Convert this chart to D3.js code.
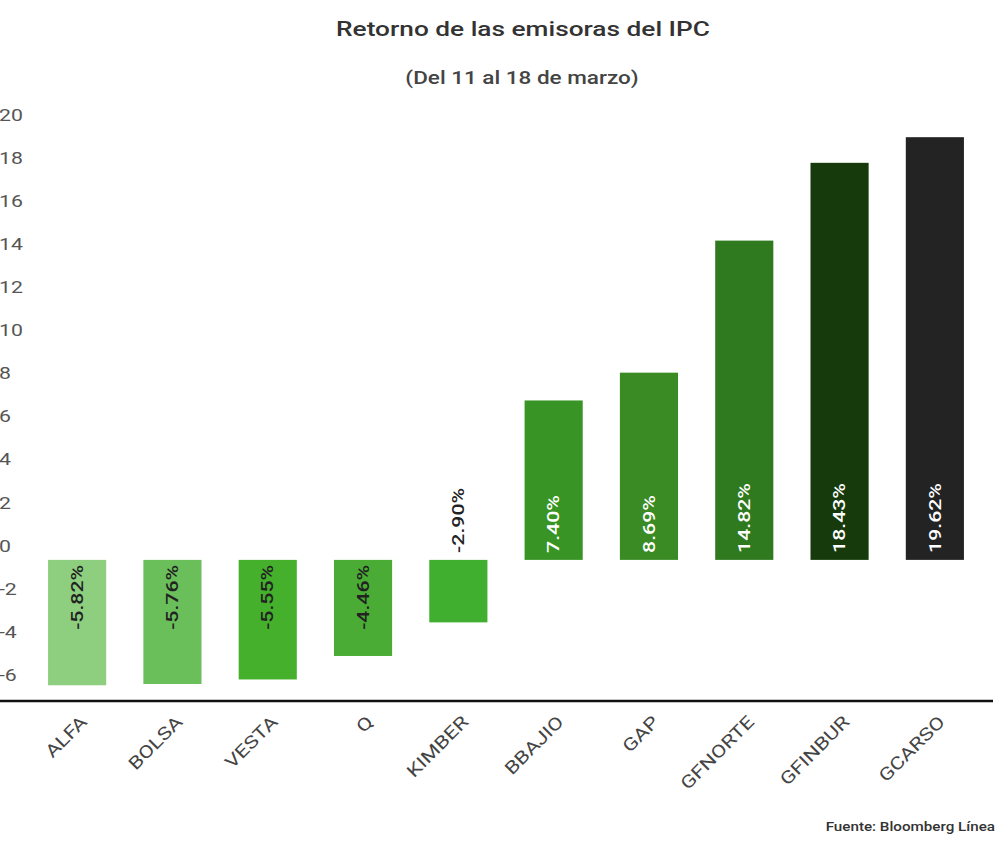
<!DOCTYPE html>
<html>
<head>
<meta charset="utf-8">
<script src="https://cdn.jsdelivr.net/npm/d3@7"></script>
<style>
  body { margin: 0; background: #fff; font-family: Roboto, "Noto Sans", sans-serif; }
</style>
</head>
<body>
<div id="chart"></div>
<script>
"use strict";

const emisoras = ["ALFA", "BOLSA", "VESTA", "Q", "KIMBER", "BBAJIO", "GAP", "GFNORTE", "GFINBUR", "GCARSO"];
const retornos = [-5.82, -5.76, -5.55, -4.46, -2.90, 7.40, 8.69, 14.82, 18.43, 19.62];
const colores = ["#8dcf7f", "#6abf5a", "#44b02c", "#4aac35", "#40ae2e", "#389525", "#3a8b23", "#2f7a1f", "#163a0c", "#232323"];
const yTicks = [20, 18, 16, 14, 12, 10, 8, 6, 4, 2, 0, -2, -4, -6];

const width = 1000, height = 843;
// the text in the picture is a bit wider than normal Roboto
const stretch = 1.25;

const svg = d3.select("#chart")
    .append("svg")
    .attr("width", width)
    .attr("height", height)
    .style("font-family", "Roboto, sans-serif");

const x = d3.scaleBand()
    .domain(emisoras)
    .range([29, 983])
    .paddingInner(0.39)
    .paddingOuter(0.2);

const y = d3.scaleLinear()
    .domain([-6.55, 20.65])
    .range([701, 115]);

function place(px, py, angle, s) {
  return `translate(${px},${py}) rotate(${angle || 0}) scale(${s || stretch},1)`;
}

// titulo
svg.append("text")
    .attr("transform", place(523, 36))
    .attr("text-anchor", "middle")
    .style("font-size", "21px")
    .style("font-weight", 500)
    .style("fill", "#333")
    .text("Retorno de las emisoras del IPC");

svg.append("text")
    .attr("transform", place(522, 84))
    .attr("text-anchor", "middle")
    .style("font-size", "18px")
    .style("font-weight", 500)
    .style("fill", "#444")
    .text("(Del 11 al 18 de marzo)");

// etiquetas del eje y (sin lineas, encima del valor)
svg.selectAll(".ytick")
    .data(yTicks)
    .enter()
    .append("text")
    .attr("class", "ytick")
    .attr("transform", d => place(-1, y(d) - 14))
    .attr("dominant-baseline", "central")
    .style("font-size", "17px")
    .style("fill", "#555")
    .text(d => d);

// barras
svg.selectAll(".bar")
    .data(retornos)
    .enter()
    .append("rect")
    .attr("class", "bar")
    .attr("x", (d, i) => x(emisoras[i]))
    .attr("y", d => y(Math.max(0, d)))
    .attr("width", x.bandwidth())
    .attr("height", d => Math.abs(y(d) - y(0)))
    .style("fill", (d, i) => colores[i]);

// etiquetas de valor, giradas
const inside = d => d < 0 && Math.abs(y(d) - y(0)) > 75;

svg.selectAll(".valor")
    .data(retornos)
    .enter()
    .append("text")
    .attr("class", "valor")
    .attr("transform", (d, i) => {
      const cx = x(emisoras[i]) + x.bandwidth() / 2;
      const yy = inside(d) ? y(0) + 5 : y(0) - 7;
      return place(cx, yy, -90);
    })
    .attr("text-anchor", d => inside(d) ? "end" : "start")
    .attr("dominant-baseline", "central")
    .style("font-size", "17px")
    .style("font-weight", 500)
    .style("fill", d => d > 0 ? "#fff" : "#222")
    .text(d => d.toFixed(2) + "%");

// linea base
svg.append("line")
    .attr("x1", 0)
    .attr("x2", 993)
    .attr("y1", y.range()[0])
    .attr("y2", y.range()[0])
    .style("stroke", "#111")
    .style("stroke-width", 2.5);

// etiquetas del eje x
svg.selectAll(".xlab")
    .data(emisoras)
    .enter()
    .append("text")
    .attr("class", "xlab")
    .attr("transform", d => place(x(d) + x.bandwidth() / 2 + 7, y.range()[0] + 18, -45))
    .attr("text-anchor", "end")
    .attr("dominant-baseline", "central")
    .style("font-size", "17.5px")
    .style("fill", "#444")
    .text(d => d);

svg.append("text")
    .attr("transform", place(995, 831, 0, 1.17))
    .attr("text-anchor", "end")
    .style("font-size", "13px")
    .style("font-weight", 500)
    .style("fill", "#333")
    .text("Fuente: Bloomberg Línea");
</script>
</body>
</html>
